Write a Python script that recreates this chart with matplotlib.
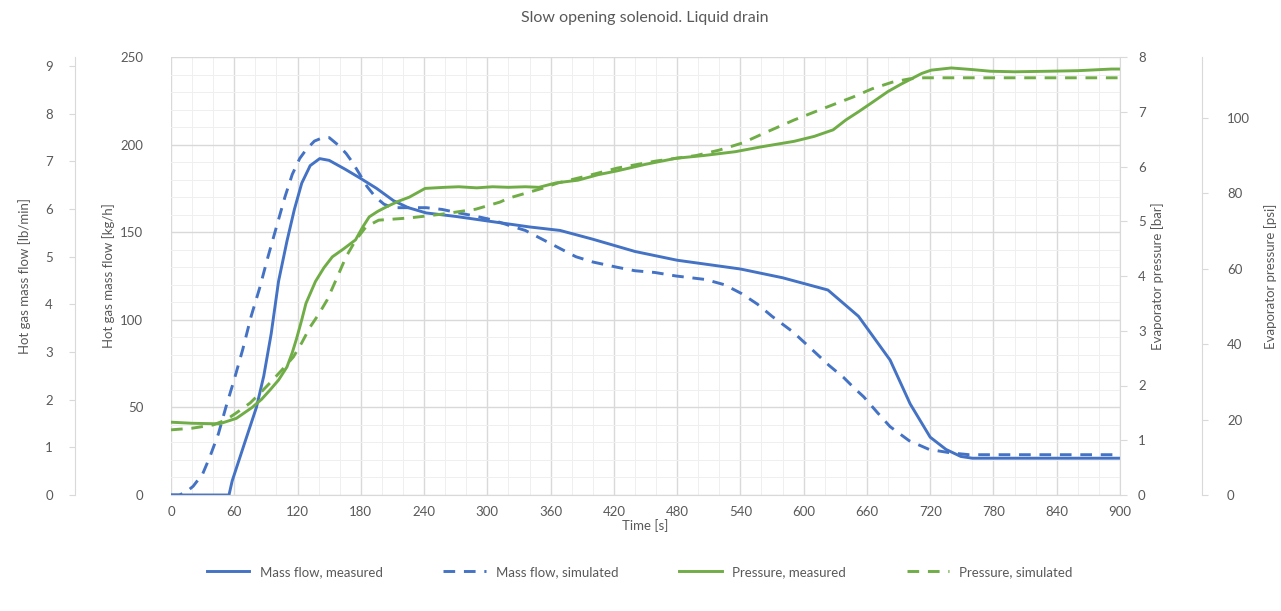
import matplotlib
matplotlib.use("Agg")
import matplotlib.pyplot as plt
from matplotlib.ticker import MultipleLocator
import numpy as np

# ==============================
# DATA
# ==============================
t_flow_meas = [0, 55, 58, 70, 81, 88, 95, 102, 110, 117, 124, 132, 141, 150, 165, 179, 195, 211,
               225, 242, 270, 305, 340, 369, 400, 440, 480, 540, 580, 623, 652, 682, 701, 720,
               735, 749, 760, 800, 850, 900]
flow_meas = [0, 0, 8, 30, 50, 68, 92, 122, 145, 163, 178, 188, 192, 191, 186, 181, 175, 168,
             164, 161, 159, 156, 153, 151, 146, 139, 134, 129, 124, 117, 102, 77, 52, 33,
             26, 22, 21, 21, 21, 21]

t_flow_sim = [0, 8, 15, 21, 30, 37, 45, 52, 60, 68, 76, 84, 92, 100, 108, 115, 122, 128, 136,
              144, 150, 158, 166, 172, 178, 186, 194, 202, 210, 225, 242, 257, 273, 290, 305,
              320, 336, 352, 368, 384, 400, 423, 440, 459, 479, 507, 525, 541, 556, 570, 590,
              608, 624, 638, 648, 657, 670, 682, 700, 719, 740, 757, 780, 820, 860, 900]
flow_sim = [0, 0, 2, 5, 12, 22, 35, 50, 66, 83, 102, 118, 136, 153, 170, 183, 192, 197, 202,
            204, 204, 200, 195, 190, 184, 176, 170, 166, 164, 164, 164, 163, 161, 159, 157,
            154, 151, 146, 141, 136, 133, 130, 128, 127, 125, 123, 120, 115, 109, 102, 93,
            83, 74, 67, 61, 56, 47, 39, 31, 26, 24, 23, 23, 23, 23, 23]

t_p_meas = [0, 20, 46, 62, 77, 86, 94, 102, 110, 115, 119, 124, 128, 137, 145, 153, 164, 175,
            182, 188, 196, 204, 215, 226, 241, 260, 273, 290, 305, 320, 336, 349, 365, 386,
            405, 423, 450, 479, 505, 535, 560, 591, 610, 628, 640, 652, 665, 680, 692, 702,
            712, 721, 740, 760, 777, 800, 833, 860, 892, 900]
p_meas = [1.33, 1.31, 1.30, 1.40, 1.60, 1.75, 1.92, 2.10, 2.34, 2.60, 2.85, 3.20, 3.50, 3.90,
          4.15, 4.35, 4.50, 4.66, 4.90, 5.08, 5.18, 5.26, 5.36, 5.44, 5.60, 5.62, 5.63, 5.61,
          5.63, 5.62, 5.63, 5.62, 5.70, 5.75, 5.85, 5.92, 6.04, 6.15, 6.20, 6.27, 6.36, 6.46,
          6.55, 6.67, 6.85, 7.00, 7.17, 7.37, 7.50, 7.60, 7.70, 7.76, 7.80, 7.77, 7.74, 7.73,
          7.74, 7.75, 7.78, 7.78]

t_p_sim = [0, 20, 40, 52, 62, 75, 84, 94, 105, 116, 124, 132, 140, 148, 157, 166, 175, 185,
           197, 226, 257, 289, 312, 320, 352, 367, 395, 423, 460, 498, 520, 542, 565, 591,
           620, 647, 665, 684, 700, 714, 900]
p_sim = [1.19, 1.22, 1.28, 1.37, 1.50, 1.68, 1.85, 2.05, 2.28, 2.52, 2.78, 3.07, 3.30, 3.56,
         3.95, 4.35, 4.65, 4.90, 5.02, 5.06, 5.13, 5.22, 5.35, 5.42, 5.60, 5.70, 5.83, 5.97,
         6.10, 6.20, 6.30, 6.43, 6.63, 6.85, 7.07, 7.27, 7.42, 7.54, 7.60, 7.62, 7.62]

# ==============================
# STYLE
# ==============================
BLUE = "#4472C4"
GREEN = "#70AD47"
TXT = "#595959"
plt.rcParams['font.family'] = ['Lato', 'DejaVu Sans']
plt.rcParams['font.size'] = 9.5

KG_TO_LBMIN = 2.20462 / 60.0
BAR_TO_PSI = 14.5038

fig = plt.figure(figsize=(12.81, 6.11), dpi=100)
ax = fig.add_axes([171/1281, 116/611, 949/1281, 438/611])

# ==============================
# MAIN AXIS (kg/h)
# ==============================
ax.set_xlim(0, 900)
ax.set_ylim(0, 250)
ax.xaxis.set_major_locator(MultipleLocator(60))
ax.xaxis.set_minor_locator(MultipleLocator(20))
ax.yaxis.set_major_locator(MultipleLocator(50))
ax.yaxis.set_minor_locator(MultipleLocator(10))
ax.grid(which='major', color='#D9D9D9', lw=1.0)
ax.grid(which='minor', color='#EFEFEF', lw=0.7)
ax.set_axisbelow(True)
for s in ['top', 'left', 'right']:
    ax.spines[s].set_visible(False)
ax.spines['bottom'].set_color('#D9D9D9')
ax.tick_params(axis='both', which='both', length=0, colors=TXT)
ax.tick_params(axis='y', pad=20)
ax.tick_params(axis='x', pad=8)
ax.set_xlabel("Time [s]", color=TXT, labelpad=1)
ax.set_ylabel("Hot gas mass flow [kg/h]", color=TXT, labelpad=4)

l1, = ax.plot(t_flow_meas, flow_meas, color=BLUE, lw=2.1, label="Mass flow, measured")
l2, = ax.plot(t_flow_sim, flow_sim, color=BLUE, lw=2.1, ls=(0, (4, 3)), label="Mass flow, simulated")

# ==============================
# PRESSURE AXIS (bar)
# ==============================
axp = ax.twinx()
axp.set_ylim(0, 8)
axp.yaxis.set_major_locator(MultipleLocator(1))
for s in ['top', 'left', 'bottom']:
    axp.spines[s].set_visible(False)
axp.spines['right'].set_color('#D9D9D9')
axp.tick_params(axis='y', length=5, color='#D9D9D9', colors=TXT, pad=8)
axp.set_ylabel("Evaporator pressure [bar]", color=TXT, labelpad=4)

l3, = axp.plot(t_p_meas, p_meas, color=GREEN, lw=2.1, label="Pressure, measured")
l4, = axp.plot(t_p_sim, p_sim, color=GREEN, lw=2.1, ls=(0, (4, 3)), label="Pressure, simulated")

# ==============================
# OUTER AXES (lb/min, psi)
# ==============================
axl = ax.twinx()
axl.set_ylim(0, 250 * KG_TO_LBMIN)
axl.yaxis.set_major_locator(MultipleLocator(1))
axl.yaxis.set_label_position('left')
axl.yaxis.set_ticks_position('left')
axl.spines['left'].set_position(('axes', (75 - 171) / 949))
axl.spines['left'].set_color('#D9D9D9')
for s in ['top', 'right', 'bottom']:
    axl.spines[s].set_visible(False)
axl.tick_params(axis='y', length=4, color='#D9D9D9', colors=TXT, pad=12)
axl.set_ylabel("Hot gas mass flow [lb/min]", color=TXT, labelpad=10)

axr = ax.twinx()
axr.set_ylim(0, 8 * BAR_TO_PSI)
axr.yaxis.set_major_locator(MultipleLocator(20))
axr.spines['right'].set_position(('axes', (1202 - 171) / 949))
axr.spines['right'].set_color('#D9D9D9')
for s in ['top', 'left', 'bottom']:
    axr.spines[s].set_visible(False)
axr.tick_params(axis='y', length=4, color='#D9D9D9', colors=TXT, pad=14)
axr.set_ylabel("Evaporator pressure [psi]", color=TXT, labelpad=10)

# ==============================
# TITLE + LEGEND
# ==============================
fig.text(645/1281, 1 - 18/611, "Slow opening solenoid. Liquid drain",
         ha='center', va='center', color=TXT, fontsize=11.5)

fig.legend(handles=[l1, l2, l3, l4], loc='center', bbox_to_anchor=(640/1281, 1 - 572/611),
           ncol=4, frameon=False, handlelength=3.2, columnspacing=4.6,
           labelcolor=TXT, fontsize=9.5)

fig.savefig("out.png", dpi=100)
